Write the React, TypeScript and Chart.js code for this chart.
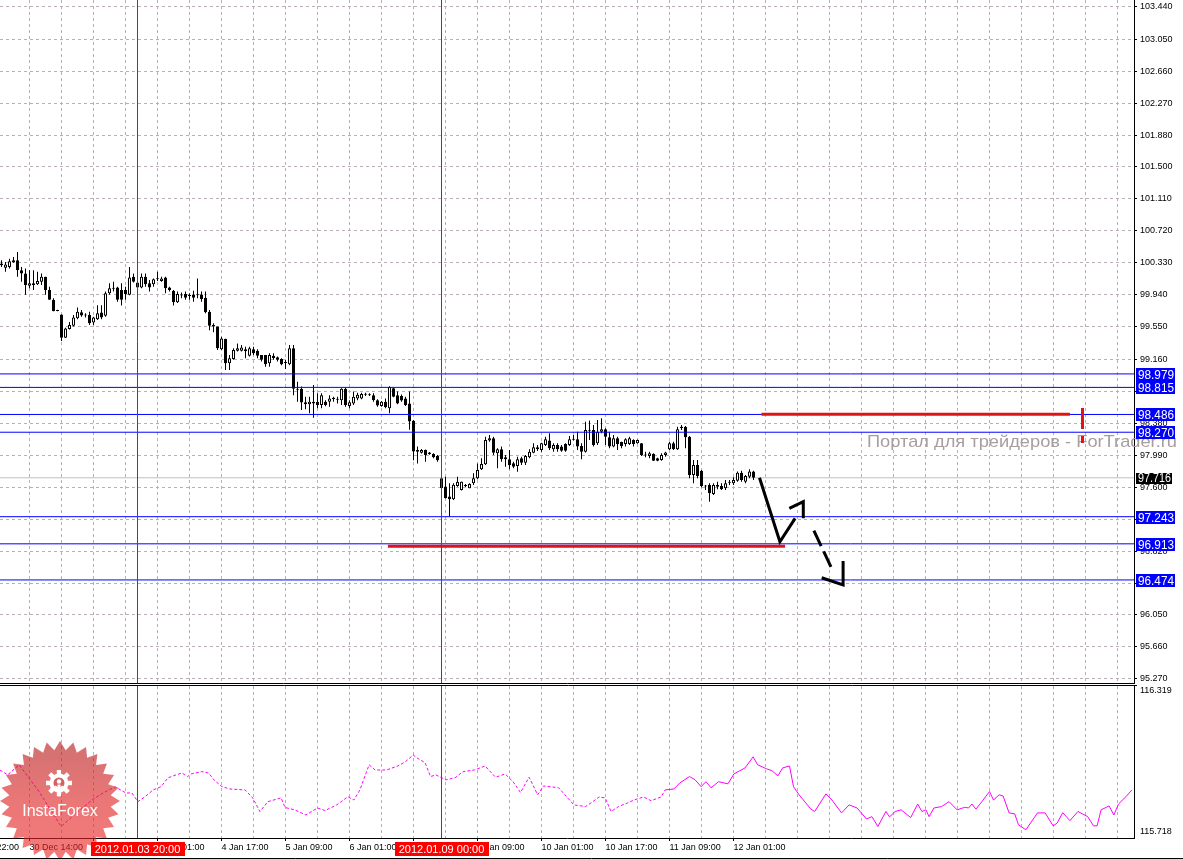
import React, { useEffect, useRef } from 'react';
import { Chart, registerables } from 'chart.js';

Chart.register(...registerables);

const FONT = "'Liberation Sans', Arial, sans-serif";

// Hourly candles, one per bar: [open, high, low, close]
const candles: number[][] = [
  [100.32, 100.36, 100.28, 100.30], [100.27, 100.34, 100.22, 100.31], [100.28, 100.38, 100.26, 100.35], [100.34, 100.40, 100.33, 100.36],
  [100.36, 100.46, 100.16, 100.24], [100.24, 100.28, 100.10, 100.20], [100.20, 100.26, 99.94, 100.06], [100.05, 100.24, 100.02, 100.08],
  [100.08, 100.24, 100.00, 100.06], [100.07, 100.22, 100.06, 100.11], [100.10, 100.20, 100.06, 100.16], [100.16, 100.16, 99.94, 100.00],
  [100.00, 100.04, 99.88, 99.88], [99.88, 99.90, 99.74, 99.74], [99.745, 99.76, 99.74, 99.757], [99.70, 99.70, 99.38, 99.42],
  [99.42, 99.54, 99.415, 99.53], [99.525, 99.61, 99.52, 99.575], [99.565, 99.695, 99.555, 99.665], [99.655, 99.785, 99.645, 99.735],
  [99.73, 99.755, 99.675, 99.69], [99.70, 99.715, 99.665, 99.688], [99.695, 99.735, 99.575, 99.595], [99.605, 99.675, 99.575, 99.665],
  [99.645, 99.815, 99.635, 99.715], [99.725, 99.815, 99.645, 99.665], [99.685, 99.98, 99.675, 99.96], [99.96, 100.08, 99.945, 100.02],
  [100.025, 100.10, 99.98, 100.013], [100.03, 100.04, 99.855, 99.88], [100.00, 100.08, 99.81, 99.88], [100.00, 100.04, 99.88, 99.95],
  [99.94, 100.28, 99.935, 100.15], [100.16, 100.20, 100.09, 100.10], [100.09, 100.20, 100.01, 100.03], [100.03, 100.20, 100.02, 100.16],
  [100.16, 100.20, 100.04, 100.07], [100.08, 100.12, 99.98, 100.03], [100.07, 100.14, 100.04, 100.13], [100.13, 100.22, 100.11, 100.142],
  [100.11, 100.16, 100.10, 100.14], [100.15, 100.16, 99.96, 100.02], [100.03, 100.04, 99.98, 100.00], [99.99, 100.00, 99.81, 99.85],
  [99.85, 99.98, 99.84, 99.95], [99.945, 99.97, 99.90, 99.933], [99.95, 99.98, 99.88, 99.905], [99.937, 99.96, 99.88, 99.925],
  [99.94, 99.99, 99.855, 99.905], [99.935, 100.14, 99.90, 99.948], [99.945, 99.98, 99.855, 99.89], [99.905, 99.98, 99.715, 99.73],
  [99.735, 99.755, 99.51, 99.565], [99.575, 99.595, 99.485, 99.555], [99.555, 99.555, 99.27, 99.29], [99.28, 99.43, 99.27, 99.41],
  [99.405, 99.405, 99.025, 99.11], [99.11, 99.21, 99.025, 99.17], [99.16, 99.29, 99.15, 99.27], [99.26, 99.35, 99.25, 99.29],
  [99.26, 99.33, 99.25, 99.30], [99.28, 99.31, 99.17, 99.255], [99.20, 99.31, 99.19, 99.29], [99.28, 99.31, 99.21, 99.23],
  [99.26, 99.28, 99.17, 99.20], [99.21, 99.21, 99.13, 99.15], [99.21, 99.21, 99.065, 99.095], [99.11, 99.23, 99.065, 99.21],
  [99.20, 99.23, 99.15, 99.17], [99.18, 99.19, 99.13, 99.15], [99.16, 99.17, 99.085, 99.095], [99.125, 99.15, 99.04, 99.113],
  [99.095, 99.33, 99.085, 99.29], [99.29, 99.33, 98.72, 98.80], [98.80, 98.885, 98.64, 98.785], [98.80, 98.825, 98.54, 98.63],
  [98.635, 98.70, 98.55, 98.61], [98.61, 98.70, 98.50, 98.64], [98.62, 98.845, 98.445, 98.64], [98.64, 98.745, 98.56, 98.60],
  [98.60, 98.745, 98.56, 98.72], [98.64, 98.66, 98.585, 98.60], [98.64, 98.72, 98.58, 98.68], [98.675, 98.70, 98.64, 98.688],
  [98.676, 98.70, 98.62, 98.664], [98.66, 98.805, 98.60, 98.80], [98.80, 98.81, 98.58, 98.60], [98.59, 98.66, 98.56, 98.635],
  [98.62, 98.765, 98.60, 98.70], [98.68, 98.75, 98.66, 98.725], [98.68, 98.75, 98.67, 98.735], [98.738, 98.75, 98.71, 98.726],
  [98.733, 98.745, 98.71, 98.721], [98.72, 98.745, 98.64, 98.66], [98.66, 98.67, 98.58, 98.595], [98.59, 98.65, 98.58, 98.64],
  [98.64, 98.68, 98.56, 98.575], [98.56, 98.83, 98.50, 98.82], [98.805, 98.81, 98.695, 98.70], [98.72, 98.765, 98.61, 98.62],
  [98.71, 98.73, 98.64, 98.655], [98.68, 98.70, 98.59, 98.60], [98.62, 98.765, 98.30, 98.40], [98.41, 98.42, 97.93, 98.035],
  [98.054, 98.095, 97.89, 98.034], [98.02, 98.065, 98.01, 98.054], [98.054, 98.06, 97.91, 97.993], [98.022, 98.03, 97.995, 98.005],
  [98.005, 98.013, 97.953, 97.965], [97.98, 97.993, 97.91, 97.93], [97.71, 97.71, 97.585, 97.59], [97.61, 97.73, 97.465, 97.466],
  [97.487, 97.65, 97.243, 97.454], [97.454, 97.65, 97.445, 97.63], [97.617, 97.73, 97.608, 97.669], [97.568, 97.67, 97.56, 97.669],
  [97.628, 97.64, 97.60, 97.612], [97.588, 97.65, 97.588, 97.641], [97.649, 97.77, 97.628, 97.71], [97.71, 97.89, 97.698, 97.81],
  [97.82, 97.953, 97.811, 97.884], [97.88, 98.216, 97.872, 98.176], [98.168, 98.236, 98.155, 98.196], [98.196, 98.216, 97.993, 98.021],
  [98.013, 98.074, 97.831, 98.062], [98.062, 98.095, 97.912, 97.94], [97.965, 97.993, 97.851, 97.94], [97.94, 98.054, 97.819, 97.872],
  [97.892, 97.912, 97.831, 97.851], [97.86, 97.973, 97.79, 97.94], [97.953, 97.973, 97.872, 97.90], [97.90, 97.993, 97.872, 97.981],
  [97.965, 98.062, 97.953, 98.034], [98.021, 98.135, 98.013, 98.086], [98.086, 98.115, 98.042, 98.062], [98.054, 98.143, 98.034, 98.135],
  [98.115, 98.216, 98.103, 98.184], [98.168, 98.257, 98.054, 98.074], [98.062, 98.135, 98.034, 98.115], [98.115, 98.135, 98.034, 98.062],
  [98.095, 98.115, 98.034, 98.046], [98.127, 98.135, 98.034, 98.046], [98.115, 98.224, 98.103, 98.184], [98.178, 98.237, 98.168, 98.19],
  [98.184, 98.277, 98.054, 98.095], [98.103, 98.135, 97.94, 98.034], [98.034, 98.398, 98.022, 98.297], [98.30, 98.411, 98.176, 98.288],
  [98.297, 98.358, 98.095, 98.115], [98.135, 98.419, 98.115, 98.277], [98.277, 98.439, 98.257, 98.305], [98.305, 98.317, 98.115, 98.216],
  [98.208, 98.277, 98.074, 98.095], [98.095, 98.237, 98.086, 98.196], [98.196, 98.216, 98.054, 98.127], [98.155, 98.155, 98.074, 98.103],
  [98.127, 98.196, 98.095, 98.184], [98.127, 98.216, 98.115, 98.196], [98.176, 98.184, 98.095, 98.127], [98.135, 98.18, 98.13, 98.176],
  [98.135, 98.14, 97.981, 97.993], [98.00, 98.034, 97.965, 97.988], [97.981, 98.034, 97.953, 98.013], [98.005, 98.013, 97.92, 97.924],
  [97.953, 97.96, 97.916, 97.924], [97.932, 98.013, 97.924, 97.993], [97.993, 98.034, 97.973, 98.022], [98.062, 98.155, 98.054, 98.135],
  [98.135, 98.155, 98.054, 98.062], [98.062, 98.338, 98.054, 98.305], [98.322, 98.358, 98.297, 98.336], [98.338, 98.346, 98.074, 98.208],
  [98.216, 98.224, 97.71, 97.75], [97.75, 97.932, 97.649, 97.872], [97.872, 97.932, 97.71, 97.738], [97.803, 97.811, 97.60, 97.617],
  [97.623, 97.629, 97.568, 97.61], [97.629, 97.649, 97.426, 97.527], [97.519, 97.649, 97.507, 97.629], [97.629, 97.669, 97.576, 97.608],
  [97.616, 97.649, 97.568, 97.576], [97.588, 97.689, 97.568, 97.649], [97.657, 97.689, 97.629, 97.669], [97.649, 97.722, 97.629, 97.689],
  [97.681, 97.791, 97.669, 97.778], [97.778, 97.803, 97.669, 97.689], [97.669, 97.75, 97.649, 97.738], [97.73, 97.819, 97.71, 97.791],
  [97.791, 97.803, 97.689, 97.716],
];

const priceTickValues = [95.27, 95.66, 96.05, 96.43, 96.82, 97.21, 97.6, 97.99, 98.38, 98.77, 99.16, 99.55, 99.94, 100.33, 100.72, 101.11, 101.5, 101.88, 102.27, 102.66, 103.05, 103.44];
const priceTickLabels = ['95.270', '95.660', '96.050', '96.430', '96.820', '97.210', '97.600', '97.990', '98.380', '98.770', '99.160', '99.550', '99.940', '100.330', '100.720', '101.110', '101.500', '101.880', '102.270', '102.660', '103.050', '103.440'];

const levelPrices = [98.979, 98.815, 98.486, 98.27, 97.243, 96.913, 96.474];
const levelLabels = ['98.979', '98.815', '98.486', '98.270', '97.243', '96.913', '96.474'];
const bidPrice = 97.716;
const bidLabel = '97.716';

const timeLabelBars = [-9, 7, 23, 39, 55, 71, 87, 103, 119, 135, 151, 167, 183];
const timeLabels = ['29 Dec 22:00', '30 Dec 14:00', '3 Jan 09:00', '4 Jan 01:00', '4 Jan 17:00', '5 Jan 09:00', '6 Jan 01:00', '6 Jan 17:00', '9 Jan 09:00', '10 Jan 01:00', '10 Jan 17:00', '11 Jan 09:00', '12 Jan 01:00'];

const markerBars = [34, 110];
const markerLabels = ['2012.01.03 20:00', '2012.01.09 00:00'];

const resistanceSegment = [[190, 98.49], [267.1, 98.49]];
const supportSegment = [[96.6, 96.885], [195.9, 96.885]];
const redTickUpper = [[270.25, 98.565], [270.25, 98.309]];
const redTickLower = [[270.25, 98.224], [270.25, 98.139]];

const arrowPath = [[189.5, 97.716], [194.6, 96.939], [198.4, 97.223]];
const arrowHead = [[196.95, 97.345], [200.45, 97.425], [200.45, 97.223]];
const dashedPath = [[203.1, 97.073], [207.9, 96.577]];
const dashedHead = [[205.05, 96.501], [210.4, 96.413], [210.4, 96.704]];

const indicatorBars = [-0.4, 1.55, 4.4, 9.1, 14.9, 18.75, 22.6, 25.4, 28.4, 31.1, 32.6, 34.1, 35.9, 37.9, 39.9, 41.6, 43.6, 45.1, 46.5, 47.4, 50.1, 51.8, 53.1, 55.1, 57.1, 60.9, 62.8, 64.6, 66.6, 69.9, 70.9, 73.3, 76.1, 79.0, 80.9, 83.8, 86.6, 88.1, 89.6, 91.9, 93.4, 96.25, 99.1, 101.05, 102.9, 103.9, 105.9, 107.25, 108.6, 111.1, 113.4, 115.4, 118.25, 120.9, 123.5, 125.9, 127.9, 129.75, 131.9, 134.05, 135.5, 139.3, 143.1, 146, 147.5, 149.4, 150.9, 152.4, 154.25, 156.6, 158.1, 160.5, 162.4, 164.9, 165.9, 168.1, 169.6, 172, 173.4, 174.9, 176.1, 177.4, 179.25, 181.6, 183.1, 185.9, 187.9, 189.05, 191.25, 192.6, 194.1, 195.3, 197, 198, 199.4, 202.3, 203.3, 206.1, 207.6, 210, 211.9, 213.9, 216.25, 217.6, 219.1, 221.1, 222, 223.4, 224.9, 227.3, 229.05, 230.1, 231.1, 231.9, 233.1, 235, 236.9, 238.9, 240.8, 241.75, 242.6, 243.6, 245.1, 247, 248, 249.4, 250.4, 251.9, 253.3, 254.25, 256.1, 259, 260.9, 262.9, 263.9, 265.3, 267.1, 269.1, 271.55, 273, 273.9, 274.9, 276.9, 278.1, 279.25, 281.1, 282.6];
const indicatorValues = [115.982, 115.961, 116.004, 115.897, 115.741, 115.799, 115.854, 115.884, 115.910, 115.884, 115.884, 115.847, 115.868, 115.897, 115.911, 115.948, 115.961, 115.969, 115.954, 115.965, 115.975, 115.969, 115.940, 115.911, 115.901, 115.897, 115.863, 115.805, 115.847, 115.863, 115.822, 115.812, 115.790, 115.820, 115.809, 115.833, 115.868, 115.854, 115.897, 116.004, 115.982, 115.982, 115.999, 116.018, 116.046, 116.033, 116.013, 115.954, 115.961, 115.940, 115.949, 115.975, 115.982, 115.999, 115.951, 115.965, 115.932, 115.886, 115.951, 115.876, 115.914, 115.906, 115.833, 115.826, 115.843, 115.867, 115.863, 115.805, 115.826, 115.842, 115.854, 115.867, 115.851, 115.867, 115.897, 115.901, 115.927, 115.954, 115.940, 115.911, 115.932, 115.906, 115.932, 115.923, 115.965, 115.991, 116.038, 116.004, 115.987, 115.979, 115.957, 115.991, 115.999, 115.911, 115.876, 115.816, 115.805, 115.880, 115.854, 115.799, 115.833, 115.820, 115.773, 115.783, 115.741, 115.805, 115.782, 115.805, 115.812, 115.779, 115.837, 115.805, 115.812, 115.783, 115.820, 115.826, 115.847, 115.812, 115.823, 115.820, 115.837, 115.815, 115.847, 115.890, 115.854, 115.876, 115.871, 115.799, 115.795, 115.748, 115.727, 115.799, 115.799, 115.744, 115.755, 115.800, 115.766, 115.805, 115.783, 115.744, 115.744, 115.812, 115.829, 115.790, 115.837, 115.868, 115.897];
const indicatorTickValues = [115.718, 116.319];
const indicatorSolidFrom = 165.9;

const watermark = 'Портал для трейдеров - ForTrader.ru';

// ---- layout constants ----
const X_MIN = -0.375;
const X_MAX = 283.125;
const PRICE_MIN = 95.221;
const PRICE_MAX = 103.525;
const IND_MIN = 115.692;
const IND_MAX = 116.34;
const GRID = '#bbaebb';

const gridBars: number[] = [];
for (let b = -1; b <= 283; b += 8) gridBars.push(b);
const lowerTicks = [-9, ...gridBars];

const lineDs = (pts: number[][], color: string, width: number, extra: any = {}) => ({
  type: 'line' as const,
  data: pts.map(([x, y]) => ({ x, y })),
  borderColor: color,
  borderWidth: width,
  pointRadius: 0,
  pointHoverRadius: 0,
  fill: false,
  tension: 0,
  order: 0,
  ...extra,
});

const noPadX = (h: number) => (s: any) => { s.height = h; s.paddingLeft = 0; s.paddingRight = 0; };
const noPadY = (w: number) => (s: any) => { s.width = w; s.paddingTop = 0; s.paddingBottom = 0; };

function drawLogo(ctx: CanvasRenderingContext2D, cx: number, cy: number) {
  ctx.save();
  const n = 28, rO = 60, rI = 51;
  ctx.beginPath();
  for (let i = 0; i < n * 2; i++) {
    const r = i % 2 === 0 ? rO : rI;
    const a = -Math.PI / 2 + (i * Math.PI) / n;
    const px = cx + r * Math.cos(a), py = cy + r * Math.sin(a);
    if (i === 0) ctx.moveTo(px, py); else ctx.lineTo(px, py);
  }
  ctx.closePath();
  const g = ctx.createLinearGradient(0, cy - rO, 0, cy + rO);
  g.addColorStop(0, 'rgba(180,25,25,0.62)');
  g.addColorStop(0.5, 'rgba(222,35,35,0.62)');
  g.addColorStop(1, 'rgba(240,40,40,0.62)');
  ctx.fillStyle = g;
  ctx.fill();

  const gx = cx - 1, gy = cy - 18;
  ctx.fillStyle = '#ffffff';
  ctx.beginPath();
  ctx.arc(gx, gy, 9.5, 0, Math.PI * 2);
  ctx.fill();
  for (let i = 0; i < 8; i++) {
    ctx.save();
    ctx.translate(gx, gy);
    ctx.rotate((i * Math.PI) / 4);
    ctx.fillRect(-2.2, -13, 4.4, 5);
    ctx.restore();
  }
  ctx.fillStyle = 'rgb(214,96,96)';
  ctx.beginPath();
  ctx.arc(gx, gy, 5.5, 0, Math.PI * 2);
  ctx.fill();
  ctx.fillStyle = '#ffffff';
  ctx.beginPath();
  ctx.arc(gx, gy - 1.5, 2.2, 0, Math.PI * 2);
  ctx.fill();
  ctx.fillRect(gx - 1.5, gy + 1.5, 3, 12);
  ctx.strokeStyle = '#ffffff';
  ctx.lineWidth = 1.6;
  ctx.beginPath();
  ctx.arc(gx, gy + 1, 4.2, Math.PI * 0.15, Math.PI * 0.85);
  ctx.stroke();

  ctx.font = `16px ${FONT}`;
  ctx.textAlign = 'center';
  ctx.textBaseline = 'alphabetic';
  ctx.fillStyle = '#ffffff';
  ctx.fillText('InstaForex', cx, cy + 15);
  ctx.restore();
}

const mainDecor = {
  id: 'mainDecor',
  beforeDatasetsDraw(chart: any) {
    const ctx: CanvasRenderingContext2D = chart.ctx;
    ctx.save();
    ctx.font = `17px ${FONT}`;
    ctx.fillStyle = '#a79e9e';
    ctx.textBaseline = 'alphabetic';
    ctx.textAlign = 'left';
    const w = ctx.measureText(watermark).width;
    ctx.translate(867, 447);
    ctx.scale(310 / w, 1);
    ctx.fillText(watermark, 0, 0);
    ctx.restore();
  },
  afterDraw(chart: any) {
    const ctx: CanvasRenderingContext2D = chart.ctx;
    const y = chart.scales.y;
    const right = chart.chartArea.right;
    ctx.save();
    ctx.strokeStyle = '#000';
    ctx.lineWidth = 1;
    ctx.beginPath();
    ctx.moveTo(0, 685.5);
    ctx.lineTo(right + 3, 685.5);
    ctx.stroke();

    ctx.textBaseline = 'middle';
    ctx.textAlign = 'left';
    ctx.font = `13px ${FONT}`;
    levelPrices.forEach((p, i) => {
      const py = Math.round(y.getPixelForValue(p));
      ctx.fillStyle = '#0000ff';
      ctx.fillRect(right + 2, py - 6, 39, 13);
      ctx.fillStyle = '#ffffff';
      ctx.fillText(levelLabels[i], right + 4, py + 1, 36);
    });
    const by = Math.round(y.getPixelForValue(bidPrice));
    ctx.fillStyle = '#000000';
    ctx.fillRect(right + 2, by - 5, 36, 11);
    ctx.font = `12px ${FONT}`;
    ctx.fillStyle = '#ffffff';
    ctx.fillText(bidLabel, right + 4, by + 1, 33);
    ctx.restore();
  },
};

const lowerDecor = {
  id: 'lowerDecor',
  afterDraw(chart: any) {
    const ctx: CanvasRenderingContext2D = chart.ctx;
    const x = chart.scales.x;
    drawLogo(ctx, 60, 115);
    ctx.save();
    ctx.font = `11px ${FONT}`;
    ctx.textAlign = 'center';
    ctx.textBaseline = 'middle';
    markerBars.forEach((b, i) => {
      const px = x.getPixelForValue(b);
      const w = Math.round(ctx.measureText(markerLabels[i]).width + 8);
      ctx.fillStyle = '#ff0000';
      ctx.fillRect(Math.round(px - w / 2), 156, w, 14);
      ctx.fillStyle = '#ffffff';
      ctx.fillText(markerLabels[i], px, 163.5);
    });
    ctx.strokeStyle = '#000';
    ctx.lineWidth = 1;
    ctx.beginPath();
    ctx.moveTo(0, 172.5);
    ctx.lineTo(chart.width, 172.5);
    ctx.stroke();
    ctx.restore();
  },
};

function mainConfig(): any {
  const wickData = candles.map((c, i) => ({ x: i, y: [c[2], c[1]] }));
  const bodyData = candles.map((c, i) => ({ x: i, y: [Math.min(c[0], c[3]), Math.max(c[0], c[3])] }));
  const bodyFill = candles.map((c) => (c[3] >= c[0] ? '#ffffff' : '#000000'));
  const datasets: any[] = [
    lineDs([[X_MIN, bidPrice], [X_MAX, bidPrice]], '#c0c0c0', 1, { order: 20 }),
    {
      type: 'bar', data: wickData, backgroundColor: '#000000', borderWidth: 0,
      barThickness: 1, grouped: false, inflateAmount: 0, order: 10,
    },
    {
      type: 'bar', data: bodyData, backgroundColor: bodyFill, borderColor: '#000000', borderWidth: 1,
      borderSkipped: false, barThickness: 3, grouped: false, inflateAmount: 0, order: 9,
    },
    ...levelPrices.map((p) => lineDs([[X_MIN, p], [X_MAX, p]], '#0000ff', 1, { order: 3 })),
    lineDs(resistanceSegment, '#e01414', 3, { order: 2 }),
    lineDs(supportSegment, '#e01414', 3, { order: 2 }),
    lineDs(redTickUpper, '#e01414', 3, { order: 2 }),
    lineDs(redTickLower, '#e01414', 3, { order: 2 }),
    lineDs(arrowPath, '#000000', 3, { order: 1 }),
    lineDs(arrowHead, '#000000', 3, { order: 1 }),
    lineDs(dashedPath, '#000000', 3, { order: 1, borderDash: [17, 6] }),
    lineDs(dashedHead, '#000000', 3, { order: 1 }),
    ...markerBars.map((b) => lineDs([[b, PRICE_MIN], [b, PRICE_MAX]], '#ff0000', 1, { order: 0 })),
  ];
  return {
    type: 'bar',
    data: { datasets },
    plugins: [mainDecor],
    options: {
      responsive: false,
      maintainAspectRatio: false,
      animation: false,
      devicePixelRatio: 1,
      events: [],
      layout: { padding: 0 },
      plugins: { legend: { display: false }, tooltip: { enabled: false }, title: { display: false } },
      scales: {
        x: {
          type: 'linear', position: 'bottom', min: X_MIN, max: X_MAX, offset: false,
          afterBuildTicks: (s: any) => { s.ticks = gridBars.map((v) => ({ value: v })); },
          afterFit: noPadX(3),
          ticks: { display: false },
          grid: { color: GRID, lineWidth: 1, drawTicks: false, offset: false },
          border: { display: true, color: '#000000', width: 1, dash: [3, 3] },
        },
        y: {
          type: 'linear', position: 'right', min: PRICE_MIN, max: PRICE_MAX,
          afterBuildTicks: (s: any) => { s.ticks = priceTickValues.map((v) => ({ value: v })); },
          afterFit: noPadY(49),
          ticks: {
            autoSkip: false, padding: 3, color: '#000000',
            font: { family: FONT, size: 9 },
            callback: (_v: any, i: number) => priceTickLabels[i],
          },
          grid: { color: GRID, lineWidth: 1, drawTicks: true, tickLength: 3, tickColor: '#000000' },
          border: { display: true, color: '#000000', width: 1, dash: [3, 3] },
        },
      },
    },
  };
}

function lowerConfig(): any {
  const labelMap: Record<string, string> = {};
  timeLabelBars.forEach((b, i) => { labelMap[String(b)] = timeLabels[i]; });
  const labeled = new Set(timeLabelBars);
  const n = Math.min(indicatorBars.length, indicatorValues.length);
  const indData = [] as { x: number; y: number }[];
  for (let i = 0; i < n; i++) indData.push({ x: indicatorBars[i], y: indicatorValues[i] });
  const datasets: any[] = [
    {
      type: 'line', data: indData, borderColor: '#ff00ff', borderWidth: 1, pointRadius: 0, pointHoverRadius: 0,
      fill: false, tension: 0, order: 2,
      segment: { borderDash: (c: any) => (c.p0.parsed.x < indicatorSolidFrom ? [3, 2] : undefined) },
    },
    ...markerBars.map((b) => lineDs([[b, IND_MIN], [b, IND_MAX]], '#ff0000', 1, { order: 0 })),
  ];
  return {
    type: 'line',
    data: { datasets },
    plugins: [lowerDecor],
    options: {
      responsive: false,
      maintainAspectRatio: false,
      animation: false,
      devicePixelRatio: 1,
      events: [],
      layout: { padding: 0 },
      plugins: { legend: { display: false }, tooltip: { enabled: false }, title: { display: false } },
      scales: {
        x: {
          type: 'linear', position: 'bottom', min: X_MIN, max: X_MAX, offset: false,
          afterBuildTicks: (s: any) => { s.ticks = lowerTicks.map((v) => ({ value: v })); },
          afterFit: noPadX(21),
          ticks: {
            autoSkip: false, maxRotation: 0, minRotation: 0, align: 'start', padding: 1,
            color: '#000000', font: { family: FONT, size: 9 },
            callback: (v: any) => labelMap[String(v)] ?? '',
          },
          grid: {
            color: GRID, lineWidth: 1, drawTicks: true, tickLength: 3, offset: false,
            tickColor: (c: any) => (c.tick && labeled.has(c.tick.value) ? '#000000' : 'rgba(0,0,0,0)'),
          },
          border: { display: true, color: '#000000', width: 1, dash: [3, 3] },
        },
        y: {
          type: 'linear', position: 'right', min: IND_MIN, max: IND_MAX,
          afterBuildTicks: (s: any) => { s.ticks = indicatorTickValues.map((v) => ({ value: v })); },
          afterFit: noPadY(49),
          ticks: {
            autoSkip: false, padding: 6, color: '#000000', font: { family: FONT, size: 9 },
            callback: (v: any) => Number(v).toFixed(3),
          },
          grid: { display: false, drawTicks: false },
          border: { display: true, color: '#000000', width: 1 },
        },
      },
    },
  };
}

export default function App() {
  const mainRef = useRef<HTMLCanvasElement>(null);
  const lowRef = useRef<HTMLCanvasElement>(null);
  useEffect(() => {
    const main = new Chart(mainRef.current as HTMLCanvasElement, mainConfig());
    const low = new Chart(lowRef.current as HTMLCanvasElement, lowerConfig());
    return () => {
      main.destroy();
      low.destroy();
    };
  }, []);
  return (
    <div style={{ position: 'absolute', left: 0, top: 0, width: 1183, height: 859, background: '#ffffff', overflow: 'hidden' }}>
      <canvas ref={mainRef} width={1183} height={686} style={{ position: 'absolute', left: 0, top: 0, width: 1183, height: 686 }} />
      <canvas ref={lowRef} width={1183} height={173} style={{ position: 'absolute', left: 0, top: 686, width: 1183, height: 173 }} />
    </div>
  );
}
